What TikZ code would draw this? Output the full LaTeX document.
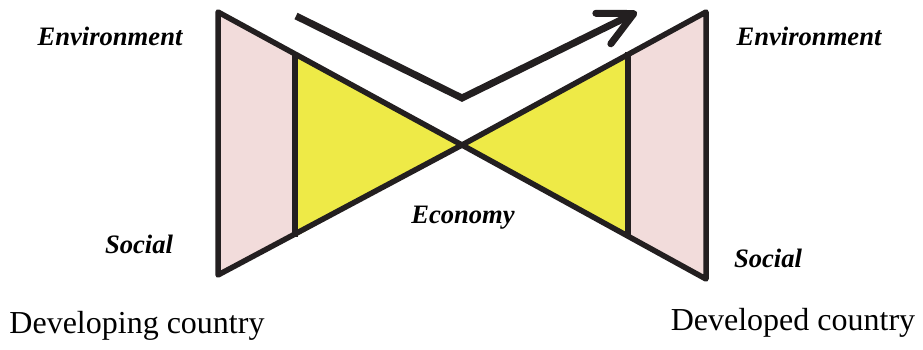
\documentclass[tikz,border=0pt]{standalone}
\usepackage{fontspec}
\setmainfont{Liberation Serif}
\usetikzlibrary{arrows.meta}
\definecolor{pinkfill}{HTML}{F2DCDB}
\definecolor{yellowfill}{HTML}{EEEA47}
\definecolor{outline}{HTML}{231F20}
\begin{document}
\begin{tikzpicture}[x=1pt,y=-1pt,
  shapeline/.style={draw=outline,line width=5.5pt,line join=round},
  lbl/.style={anchor=base,inner sep=0pt,font=\fontsize{26.6}{30}\selectfont\bfseries\itshape},
  country/.style={anchor=base,inner sep=0pt,font=\fontsize{32}{36}\selectfont}]
\useasboundingbox (0,0) rectangle (923,349);
% key points
\coordinate (LT) at (218,12);
\coordinate (LB) at (218,275);
\coordinate (LIT) at (295,54);
\coordinate (LIB) at (295,237);
\coordinate (C) at (462,145);
\coordinate (RIT) at (628,52);
\coordinate (RIB) at (628,235);
\coordinate (RT) at (706,12);
\coordinate (RB) at (706,279);
% shapes
\fill[pinkfill] (LT) -- (LIT) -- (LIB) -- (LB) -- cycle;
\fill[yellowfill] (LIT) -- (C) -- (LIB) -- cycle;
\fill[yellowfill] (C) -- (RIT) -- (RIB) -- cycle;
\fill[pinkfill] (RIT) -- (RT) -- (RB) -- (RIB) -- cycle;
\draw[shapeline] (LT) -- (LB) -- (C) -- cycle;
\draw[shapeline] (LIT) -- (LIB);
\draw[shapeline] (RT) -- (RB) -- (C) -- cycle;
\draw[shapeline] (RIT) -- (RIB);
% arrow
\coordinate (AS) at (296,16);
\coordinate (AV) at (462,98);
\coordinate (AE) at (637,12);
\draw[draw=outline,line width=7pt,line join=miter,
  -{Straight Barb[length=34pt,width=34pt,round,line width=7pt]}]
  (AS) -- (AV) -- (AE);
% labels
\node[lbl] (envL) at (110,45) {Environment};
\node[lbl] (envR) at (809,45) {Environment};
\node[lbl] (socL) at (139,253) {Social};
\node[lbl] (socR) at (768,267) {Social};
\node[lbl] (eco) at (463,223) {Economy};
\node[country] (devL) at (137,333) {Developing country};
\node[country] (devR) at (793,330) {Developed country};
\end{tikzpicture}
\end{document}
